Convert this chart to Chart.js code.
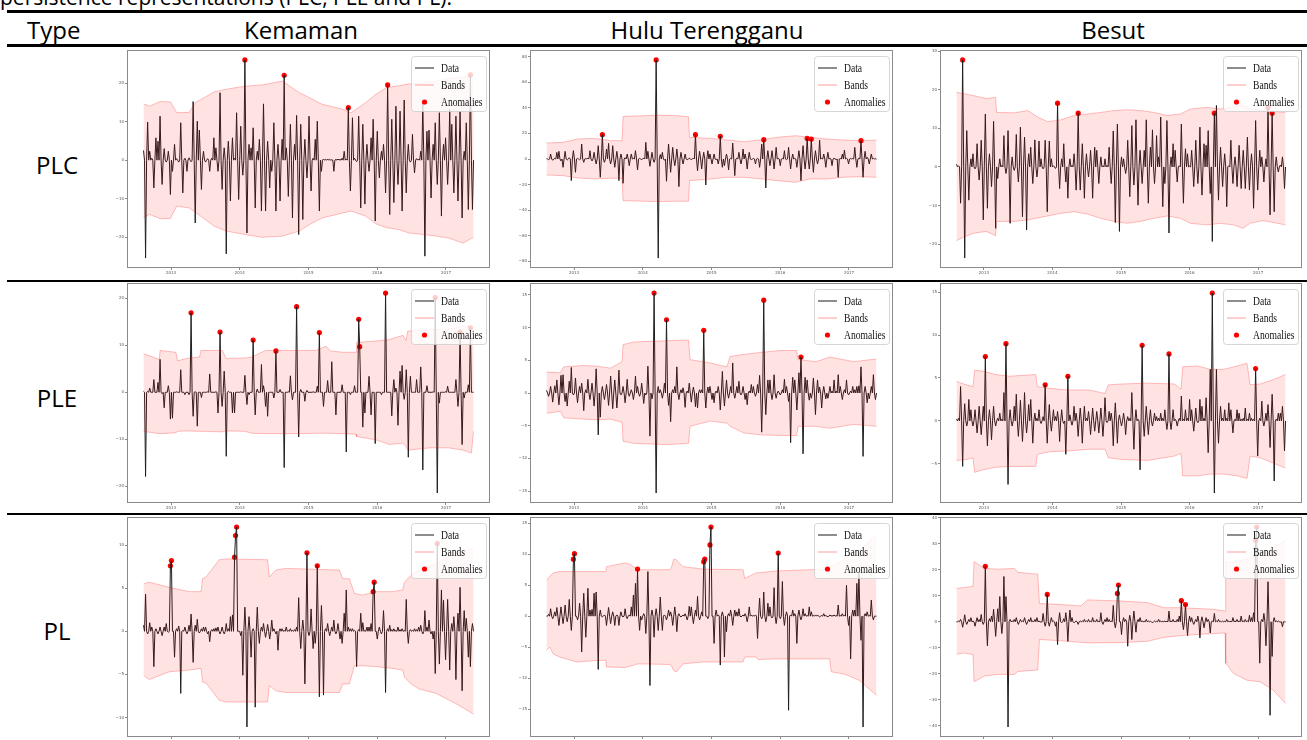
<!DOCTYPE html>
<html>
<head>
<meta charset="utf-8">
<script src="https://cdn.jsdelivr.net/npm/chart.js@4.4.1/dist/chart.umd.min.js"></script>
<style>
  body { margin: 0; width: 1307px; height: 740px; overflow: hidden; background: #fff; position: relative; font-family: "Open Sans", sans-serif; }
  .rule { position: absolute; left: 7px; right: 0; background: #000; z-index: 5; }
  .txt { position: absolute; font-size: 24px; line-height: 24px; color: #000; white-space: nowrap; z-index: 5; }
  .mid { transform: translateX(-50%); }
  .cap { position: absolute; left: 0; top: -13px; font-size: 21px; line-height: 21px; white-space: nowrap; }
  canvas { position: absolute; }
</style>
</head>
<body>
<div class="cap">persistence representations (PLC, PLE and PL).</div>
<div class="rule" style="top:10px;height:3px"></div>
<div class="txt" style="left:27px;top:18px">Type</div>
<div class="txt mid" style="left:301px;top:18px">Kemaman</div>
<div class="txt mid" style="left:707px;top:18px">Hulu Terengganu</div>
<div class="txt mid" style="left:1113px;top:18px">Besut</div>
<div class="rule" style="top:44px;height:3px"></div>
<div class="rule" style="top:280px;height:2px"></div>
<div class="rule" style="top:513px;height:2px"></div>
<div class="txt mid" style="left:57px;top:153px">PLC</div>
<div class="txt mid" style="left:57px;top:386px">PLE</div>
<div class="txt mid" style="left:57px;top:619px">PL</div>

<script>
/**
 * Anomaly panels: series, band envelope, flagged points.
 * Series are sampled evenly between T0 and T1 (years); band knots use a 0..159 grid.
 */
const T0 = 2012.6, T1 = 2017.4, KNOT_MAX = 159;
const yearTicks = [2013, 2014, 2015, 2016, 2017];

// ---- Kemaman / PLC
const kemPLC = [2.5,0,-25.4,0,9.9,0,2.3,0,0.5,0,-7.2,0,5.8,0,4.9,0,11.4,0,-6.3,0,
  3,0,-0.5,0,2.3,0,-8.9,0,-2.9,0,4.1,0,0.4,0,-0.5,0,9.7,0,-8.5,0,
  0.5,0,-2.9,0,0.6,0,-0.4,0,15.2,0,-16.3,0,10.1,0,7.8,0,-7.6,0,2.3,0,
  -0.5,0,0.4,0,-2.9,0,0.5,0,5.8,0,3.2,0,-2.9,0,17.5,0,-7.6,0,3.2,0,
  -24.3,0,4.9,0,-10.6,0,5.8,0,0.5,0,12.3,0,-10.2,0,8.8,0,-3.9,0,26.0,0,
  -18.9,0,4.1,0,3.2,0,8.4,0,-12.4,0,2.3,0,5.4,0,-13.2,0,14.6,0,-13.2,0,
  4.9,0,-7.2,0,-2.9,0,9.7,0,-13.2,0,4.1,0,-10.6,0,5.4,0,22.0,0,3.2,0,
  -9.4,0,9.3,0,-15,0,4.1,0,11.6,0,-19.3,0,9.3,0,-15.4,0,5.4,0,-4.6,0,
  11.4,0,-8,0,0.5,0,5.4,0,10.1,0,-13.2,0,-2.9,0,0.3,0,0.2,0,0.3,0,
  0.2,0,0.1,0,-2.9,0,0.2,0,0.3,0,0.2,0,0.5,0,2.3,0,0.3,0,13.6,0,
  -8,0,11,0,0.5,0,-0.4,0,11.4,0,-12.4,0,9.3,0,-11.4,0,4.1,0,-2.9,0,
  5.8,0,10.6,0,-15.8,0,7.5,0,-4.6,0,2.3,0,4.1,0,-8.5,0,19.5,0,-14.1,0,
  10.6,0,-11,0,14,0,-6.3,0,12.7,0,-13.2,0,15.6,0,-8.5,0,4.1,0,-0.5,0,
  6.7,0,-3.3,0,0.4,0,0.3,0,2.3,0,14.5,0,-24.9,0,7.5,0,7.8,0,-9.8,0,
  4.1,0,9.7,0,-6.3,0,12.3,0,-14.5,0,4.1,0,5.8,0,-6.3,0,13.2,0,9.3,0,
  -8.5,0,11.4,0,-10.6,0,12.7,0,-15,0,2.3,0,9.7,0,-12.8,0,22.1,0,-12.8,0];
const kemPLC_anom = [98, 136, 198, 236, 316];
const kemPLC_knots = [0,3,8,13,16,22,25,34,40,49,57,67,75,80,86,96,100,107,112,117,123,128,135,141,147,154,159];
const kemPLC_up = [14.6,14,15.2,15.1,12.3,12.4,14.9,17.7,18.4,19.2,19.5,20.5,17.5,16.2,14.5,13.2,12.3,14.9,17.1,18.8,19.3,19.8,20,20.5,21.2,21.5,22.1];
const kemPLC_lo = [-14.8,-14.1,-15.2,-15.1,-11.9,-12.4,-13.5,-17.1,-18.4,-19.3,-20,-19.7,-18.4,-16.7,-15,-13.7,-13.2,-14.5,-16.5,-17.5,-18,-18.9,-19.3,-19.7,-20.2,-21.5,-20];

// ---- Hulu Terengganu / PLC
const huluPLC = [0.3,0,-0.5,0,3.9,0,-1,0,0.5,0,5.2,0,6,0,-1.5,0,-6.5,0,6,0,
  -0.8,0,1,0,-16.9,0,6.5,0,-10.4,0,0.5,0,-0.6,0,11.7,0,-2.6,0,0.4,0,
  0.8,0,6.5,0,-1.5,0,5.2,0,-3.9,0,10.4,0,-14.3,0,19,0,-2.6,0,7.8,0,
  12.2,0,-3.9,0,10.4,0,-6.5,0,6,0,-16.9,0,3.9,0,-19,0,1,0,3.9,0,
  -5.2,0,3.9,0,0.5,0,6.5,0,-8.6,0,0.5,0,-0.5,0,0.8,0,13,0,6,0,
  -5.7,0,5.2,0,-2.6,0,77.4,0,-77.4,0,3.5,0,5.2,0,-1,0,-17.4,0,11.7,0,
  -10.4,0,9.1,0,-5.2,0,7.8,0,-21.6,0,5.2,0,-3.9,0,3.9,0,-0.5,0,0.6,0,
  -0.4,0,0.8,0,19,0,-9.1,0,6,0,-7.8,0,5.2,0,-20.3,0,6.5,0,3.9,0,
  -3.9,0,3.9,0,-0.5,0,-3.9,0,17.7,0,-6.5,0,-5.2,0,3.9,0,-8.6,0,0.5,0,
  12.5,0,-13,0,0.6,0,5.2,0,-3.9,0,7.8,0,3.9,0,-7.8,0,5.2,0,-0.5,0,
  0.4,0,-3.9,0,0.5,0,-6.5,0,11.7,0,15.1,0,-22.6,0,6.5,0,-5.2,0,6.5,0,
  -7.8,0,9.1,0,0.5,0,-5.2,0,0.4,0,6.5,0,-0.5,0,9.1,0,-7.8,0,3.9,0,
  0.5,0,-6.5,0,6.5,0,-16.9,0,10.4,0,-7.8,0,16.1,0,-7.8,0,15.6,0,-10.4,0,
  6.5,0,-3.9,0,14.8,0,0.5,0,3.9,0,-6.5,0,5.2,0,0.5,0,-5.2,0,0.6,0,
  -0.5,0,-14.3,0,0.4,0,3.9,0,7,0,0.5,0,-3.9,0,0.5,0,0.4,0,9.1,0,
  -6.5,0,0.5,0,14.3,0,-14.3,0,6,0,1.3,0,-3.9,0,3.9,0,0.5,0,0.2,0];
const huluPLC_anom = [54, 106, 144, 168, 210, 252, 256, 304];
const huluPLC_knots = [0,8,15,23,31,36.4,36.9,47,53,63,68.4,68.9,79,87,95,104,111,120,127,135,143,151,159];
const huluPLC_up = [12.5,13,15.6,16.1,14.3,14.3,33.2,33.8,34.3,33.8,33,16.9,16.1,14.8,13.5,15.1,16.9,18.2,16.9,15.6,14.8,14.3,14.8];
const huluPLC_lo = [-12.5,-13,-14.8,-15.6,-15,-15,-32.5,-33,-33.2,-33,-33,-16.9,-15.6,-14.3,-14.3,-15.6,-16.9,-18.2,-15.6,-15.6,-14.3,-13.8,-14.3];

// ---- Besut / PLC
const besPLC = [0.7,0,0.3,0,-9.4,0,27.7,0,-23.6,0,9.4,0,-8.6,0,2.1,0,3.4,0,-0.5,0,
  6,0,-3.4,0,6.9,0,-13.7,0,13.7,0,-10.7,0,3.4,0,-5.1,0,11.8,0,-15.9,0,
  -3,0,2.1,0,0.4,0,8.1,0,-1.7,0,9.4,0,-14.6,0,2.6,0,-0.9,0,8.4,0,
  -3.9,0,10.3,0,-12.9,0,7.7,0,-16.3,0,3.4,0,5.1,0,-4.3,0,7,0,-2.6,0,
  6.7,0,2.1,0,-0.5,0,6.9,0,-11.6,0,6.7,0,2.1,0,0.3,0,-0.4,0,16.5,0,
  -5.6,0,2.1,0,6,0,-3.9,0,-8.1,0,2.1,0,0.4,0,3.4,0,-6,0,13.9,0,
  -6,0,6,0,-8.1,0,3.4,0,-2.6,0,4.3,0,-8.1,0,5.1,0,4.3,0,-4.3,0,
  2.6,0,0.3,0,2.1,0,0.4,0,5.1,0,-4.3,0,9.3,0,-14.4,0,11.1,0,-16.7,0,
  2.6,0,2.1,0,-1.7,0,6.9,0,-7.7,0,10.7,0,-4.7,0,12.2,0,-9.9,0,4.3,0,
  -4.3,0,4.3,0,12.2,0,-9.4,0,5.1,0,9.6,0,-4.3,0,8.1,0,2.6,0,12.9,0,
  -10.3,0,-4.3,0,12,0,-17.1,0,2.6,0,6,0,4.3,0,-3.9,0,0.3,0,11.1,0,
  -9.4,0,4.7,0,3.4,0,0.2,0,4.3,0,-5.1,0,6.9,0,-4.3,0,10.3,0,-7.3,0,
  6,0,5.6,0,9.4,0,-6.9,0,-19.3,0,13.9,0,15.9,0,-8.6,0,5.1,0,-5.1,0,
  3.4,0,-10.3,0,0.3,0,6.9,0,-4.3,0,2.6,0,-5.1,0,5.6,0,-5.6,0,4.3,0,
  -5.6,0,7.7,0,-6,0,3.4,0,-10.7,0,12,0,-6,0,4.3,0,2.6,0,-3.9,0,
  2.1,0,15.4,0,-12.4,0,13.9,0,-11.6,0,2.6,0,-1.3,0,0.5,0,2.6,0,-5.6,0];
const besPLC_anom = [6, 98, 118, 250, 302, 306];
const besPLC_knots = [0,4,8.8,14.4,18.9,19.4,28,34.5,39.3,44.1,50.5,56.9,63.3,69.7,76.1,82.5,88.9,95.4,101.8,108.2,113,121,127.4,133.8,138.6,141.8,148.2,159];
const besPLC_up = [19.3,18.9,18.4,17.7,18,14.1,14,14.6,12.9,11.7,12.2,13.3,13.7,14.1,14.6,14.8,14.6,14.1,13.3,13.7,15,15.4,15,15.4,16,15,14.6,14.1];
const besPLC_lo = [-19.1,-18,-17.1,-16.7,-17.8,-14.1,-14.1,-13.7,-13.2,-12.7,-12,-11.6,-12.2,-13.3,-14.1,-14.6,-14.1,-13.3,-12.7,-13.3,-14.6,-15,-14.6,-15,-15.9,-14.6,-13.9,-15];

// ---- Kemaman / PLE
const kemPLE = [0.2,0,-17.9,0,0.2,0,0.9,0,0,0,2.7,0,0,0,2.1,0,7,0,-0.3,0,
  -3.3,0,0,0,1.4,0,-5.7,0,-5.5,0,0,0,0.1,0,0,0,4.8,0,0,0,
  -0.5,0,0,0,-0.5,0,16.9,0,-5.1,0,0.1,0,-7.2,0,0,0,-1.1,0,0,0,
  0,0,0.1,0,3.9,0,0,0,0,0,0.1,0,-4.4,0,12.8,0,-3,0,4.5,0,
  -13.6,0,0.2,0,0,0,-4.4,0,-4.4,0,0,0,0,0,0.1,0,0,0,3.6,0,
  -2.6,0,-0.5,0,0,0,11.1,0,-4.8,0,0.7,0,0,0,5.9,0,1.4,0,-3,0,
  -5.1,0,0,0,0,0,-1.2,0,8.8,0,0,0,0.6,0,0,0,-16,0,0,0,
  0.1,0,3.5,0,-1.6,0,0,0,18.2,0,-9.5,0,0.6,0,0,0,-1.9,0,0.4,0,
  0,0,0,0,0.1,0,0,0,1.3,0,12.7,0,0,0,-3,0,0,0,2.5,0,
  0,0,6.5,0,0,0,-4.8,0,0,0,0,0,1.6,0,0,0,-12.7,0,0,0,
  -0.5,0,0,0,1.4,0,0,0,15.5,9.7,0,0,-7.4,0,-4.4,0,0,0,3.4,0,
  -4.8,0,0,0,-10.9,0,0,0,0,0,-0.5,0,0,0,21.1,0,0,0,0,0,
  -5,0,2.7,0,0.9,0,-7,0,4.5,0,5.7,0,-1.5,0,4.8,0,-13.8,0,3.4,0,
  0,0,0,0,2.7,0,0,0,5.4,0,-16.5,0,0,0,1.4,0,0,0,0,0,
  0.1,0,20.1,0,-21.4,0,-2.3,0,0,0,0,0,0.1,0,1.3,0,0,0,0,0,
  0,0,2.7,0,-3,0,12.8,0,-11.1,0,-1.2,0,0,0,1.6,0,13.7,0,0,0];
const kemPLE_anom = [46, 74, 106, 128, 148, 170, 208, 209, 234, 282, 306, 316];
const kemPLE_knots = [0,7.6,8,15.6,16.4,21,27,27.7,38,39.7,49,52,59,73,83,88,90,96,102.4,102.7,112,118.5,125,126.5,127.3,138,147,154,158,159];
const kemPLE_up = [8.2,7,8.9,8.5,6.7,7.2,7.5,8.9,8.9,7.2,7.3,7.5,8.9,8.9,8.9,9.8,8.8,8.5,8.5,10.6,10.9,11.2,12.1,11,13,13.3,13.5,14,14,13];
const kemPLE_lo = [-8.3,-8.8,-8.8,-8.6,-8.3,-8.2,-8.3,-8.3,-8.4,-8.2,-8.3,-8.7,-8.8,-8.8,-8.7,-8.7,-8.7,-8.8,-8.9,-9.4,-10.1,-11.1,-10.8,-11.5,-12.3,-11.8,-11.8,-12.3,-12.9,-8.3];

// ---- Hulu Terengganu / PLE
const huluPLE = [0.4,0,-0.5,0,1,0,-1.4,0,1.1,0,2,0,-1.8,0,2.7,0,2.8,0,-1.3,0,
  -2,0,1.8,0,3.9,0,-0.3,0,2.3,0,-1.5,0,1,0,1.5,0,-2.7,0,0.5,0,
  2.1,0,-1,0,1.5,0,-2,0,3.7,0,-6.4,0,-3.7,0,1,0,-1,0,1.3,0,
  -1.9,0,2.6,0,-2.4,0,2,0,-2.3,0,3.5,0,-0.3,0,1,0,-1.5,0,2.1,0,
  -0.5,0,0.5,0,-1,0,2.6,0,1,0,-0.5,0,1.5,0,-1.6,0,-0.3,0,4.1,0,
  -6.6,0,-0.9,0,15.3,0,-15.3,0,1,0,0.5,0,-0.8,0,1.5,0,11.2,0,-1.9,0,
  -4.4,0,0.5,0,1,0,4,0,-1,0,0.5,0,0.8,0,-2.2,0,0.3,0,1.5,0,
  -1.4,0,0.9,0,-2.1,0,-2.3,0,0.5,0,0.5,0,9.6,0,-2.3,0,0.9,0,1,0,
  -1,0,-1.5,0,0.3,0,1,0,-2.6,0,3.3,0,-2,0,2,0,-0.8,0,1,0,
  4.6,0,-0.8,0,1,0,1.8,0,-0.3,0,1,0,-1,0,-1.8,0,0.3,0,1.3,0,
  1,0,-0.5,0,1.3,0,2.7,0,-6,0,14.2,0,-3.3,0,2,0,2,0,-1,0,
  2.8,0,-0.8,0,0.3,0,-0.3,0,0.5,0,2.1,0,1,0,-1.3,0,-7.6,0,2.4,0,
  2,0,-2.6,0,3.1,0,5.5,0,-9.3,0,2.4,0,2,0,-1.1,0,-0.8,0,2.3,0,
  -3.3,0,2,0,0.9,0,-2.3,0,1,0,-0.9,0,-0.8,0,1,0,0.3,0,2,0,
  0.3,0,2.8,0,1,0,-1,0,0.5,0,2,0,-0.3,0,0.3,0,1,0,0.5,0,
  1,0,1.1,0,4,0,-9.7,0,1,0,-1.5,0,-0.9,0,1,0,2.8,0,-1,0];
const huluPLE_anom = [104, 116, 152, 210, 246];
const huluPLE_knots = [0,6.7,8.3,18,24.4,30.8,36.4,36.9,42,50,58,68.4,69.2,78.8,86.9,88.5,95,103,112.5,120.5,121.3,130,136.5,148,159];
const huluPLE_up = [3.2,3.1,4,4.2,4.1,3.8,4.8,7.4,7.8,7.9,8,8.1,5.1,4.6,4,5.6,5.9,6.2,6.5,6.5,5.1,4.8,5.5,4.8,5.2];
const huluPLE_lo = [-3.1,-2.8,-3.8,-4,-4.1,-4,-4.5,-7.4,-7.7,-7.8,-7.9,-7.7,-5.1,-4.3,-4.6,-5.1,-6.1,-6.4,-6.5,-6.5,-5.1,-5.1,-5.4,-4.8,-5.1];

// ---- Besut / PLE
const besPLE = [0.2,0,0.3,0,4,0,-5.3,0,2,0,-0.6,0,2.5,0,1.3,0,-0.6,0,1.3,0,
  -1.4,0,1.7,0,-1.6,0,1.7,0,7.5,0,-2.9,0,1.3,0,-2.2,0,1.7,0,-0.6,0,
  0.3,0,0.9,0,0.2,0,3.3,0,9,0,-7.4,0,1.3,0,-0.6,0,1.7,0,3.1,0,
  -1.8,0,2.4,0,-2.4,0,3.3,0,-1.4,0,1.9,0,2.5,0,-2.6,0,0.9,0,0.3,0,
  1.3,0,-0.3,0,0.5,0,4.2,0,-2.6,0,1.9,0,-1.2,0,1.3,0,0.5,0,1.1,0,
  -2.4,0,1.3,0,-0.3,0,-3.9,0,5.2,0,0.7,0,-0.5,0,1.7,0,0.9,0,-1.8,0,
  1.5,0,-2.6,0,1.7,0,0.3,0,1.1,0,-1.6,0,1.5,0,-1.2,0,1.1,0,-1.4,0,
  1.5,0,-1.8,0,2.7,0,-0.2,0,1.1,0,0.9,0,-2.9,0,2.1,0,-2.6,0,0.7,0,
  -0.6,0,0.9,0,-1.6,0,0.5,0,0.3,0,3.3,0,-3.3,0,1.3,0,0.2,0,-5.7,0,
  8.8,0,-1.8,0,1.7,0,-1.6,0,1.3,0,-0.6,0,0.9,0,0.5,0,0.3,0,0.9,0,
  0.3,0,1.3,0,-1,0,7.8,0,-1,0,1.3,0,0.2,0,-0.6,0,0.3,0,2.9,0,
  0.2,0,1.3,0,0.3,0,2.5,0,1.3,0,-1.2,0,1.5,0,-0.2,0,2.5,0,1.7,0,
  0.3,0,2.7,0,-3.7,0,6,0,14.9,0,-8.4,0,6,0,-2.6,0,1.7,0,0.3,0,
  1.3,0,0.3,0,2.1,0,1.3,0,-1.4,0,0.2,0,1.3,0,0.9,0,0.2,0,0.3,0,
  1.5,0,0.2,0,0.9,0,0.3,0,0.2,0,6.1,0,-4.1,0,0.3,0,2.3,0,-0.6,0,
  0.9,0,1.9,0,-3.1,0,3.1,0,-7,0,0.2,0,0.9,0,0.9,0,1.7,0,-3.5,0];
const besPLE_anom = [28, 48, 86, 108, 180, 206, 248, 290];
const besPLE_knots = [0,4.8,8,8.8,12.8,19,25.5,38.3,39.1,44.7,54,64,71.8,73.4,80,92.5,105.3,108.5,109.3,116.4,122.8,129,135.6,140.4,141.9,146.7,153,159];
const besPLE_up = [4.6,4.2,4,5.9,5.8,5.4,5.2,5.4,4,3.8,3.6,3.6,3.2,4.2,4.3,4.4,4.3,3.7,6.3,6.4,6,6,6.4,6.7,4.2,4.3,4.8,5.4];
const besPLE_lo = [-4.6,-4.5,-4.3,-6,-5.7,-5.4,-5.3,-5.3,-3.9,-3.6,-3.5,-3.3,-3.3,-4.3,-4.5,-4.6,-4.1,-3.8,-6.4,-6.4,-6.2,-6.2,-6.4,-6.7,-4.1,-4.3,-4.9,-5.5];

// ---- Kemaman / PL
const kemPL = [0.7,0,4.3,0,-0.3,0,1,0,0.5,0,-4.1,0,0.3,0,-0.3,0,0.5,0,-0.5,0,
  0.5,0,0.9,0,-0.1,0,7.6,8.2,0,0,-3,0,0.3,0,0.6,0,-7.2,0,0.1,0,
  0.5,0,-0.3,0,0.7,0,2,0,-3.6,0,0.7,0,1.4,0,-0.2,0,0.3,0,0.5,0,
  0.5,0,-0.3,0,-1.2,0,0.2,0,0.3,0,0.4,0,0.5,0,-0.3,0,0.5,0,-0.3,0,
  0.9,0,0.3,0,1.7,0,1.9,0,8.6,11.1,12.1,0,0,0,-0.5,0,-5.1,0,2.8,0,
  -11.1,0,1.7,0,-3,0,0.3,0,-8.8,0,2.8,0,-1.4,0,0.5,0,0.9,0,-0.7,0,
  0.8,0,-0.9,0,1.3,0,0.3,0,-0.3,0,-2.2,0,0.3,0,0.3,0,0.1,0,0.5,0,
  0.1,0,0.3,0,0.1,0,0.2,0,0.5,0,3.9,0,-2,0,1.3,0,-6.1,0,9.1,0,
  -0.5,0,2.6,0,-2,0,-1.4,0,7.6,0,-7.6,0,3,0,-7.4,0,0.3,0,0.9,0,
  -0.5,0,0.5,0,1.3,0,-0.3,0,0.9,0,-0.9,0,-1.4,0,2.1,0,4.8,0,0.5,0,
  0.3,0,0.3,0,0.1,0,-4.1,0,0.2,0,2.1,0,1,0,0.1,0,0.5,0,0.5,0,
  0.9,0,4.6,5.7,0,0,-0.9,0,0.5,0,-0.3,0,2.4,0,-7.1,0,0.3,0,0.7,0,
  0.2,0,0.3,0,0.1,0,0.5,0,0.2,0,0.3,0,0.1,0,3.7,0,-1.4,0,0.2,0,
  0.1,0,0.3,0,0.2,0,0.5,0,0.7,0,-0.3,0,2.4,0,0.5,0,1.3,0,-0.3,0,
  -0.9,0,-4.9,0,10.2,0,-3.8,0,4.8,0,3.6,0,-3.3,0,3.7,0,-4.5,0,0.9,0,
  1.7,0,-5.6,0,2.1,0,5.1,0,-6.9,0,2.4,0,1.5,0,-3,0,-4.1,0,0.9,0];
const kemPL_anom = [26, 27, 88, 89, 90, 158, 168, 222, 223, 284];
const kemPL_knots = [0,2.7,12.4,22,27.7,28.5,30.1,36.5,39.7,59.8,60.6,63.8,68.6,94.4,96,99.2,101.6,105.6,112.1,120.1,124.9,125.7,128.9,133,141,150.6,159];
const kemPL_up = [5.5,5.7,5.1,4.6,4.6,6.1,6.3,8.3,8.4,8.3,6.3,7.1,7.3,7.1,6.1,6.1,4.4,4.2,4.6,4.6,4.8,5.7,6.5,7.1,7.9,9,9.6];
const kemPL_lo = [-5.1,-5.6,-4.7,-4.5,-4.3,-5.9,-6,-8,-8.2,-8.2,-6.3,-6.9,-7.1,-7.1,-6.1,-6.1,-4,-4,-4.1,-4.3,-4.5,-5.3,-6.1,-6.7,-7.2,-8.4,-9.6];

// ---- Hulu Terengganu / PL
const huluPL = [0,0,0.3,0,1.2,0,-0.4,0,0.7,0,1.4,0,-1.5,0,1.5,0,-1.2,0,1.8,0,
  -0.9,0,2.7,0,-2.3,0,9.2,10.1,0,0,-0.6,0,2.1,0,-5.8,0,3.7,0,-3.4,0,
  4.5,0,1,0,1.1,0,3.7,0,3.9,0,-8.6,0,1,0,-0.1,0,0.2,0,-1.5,0,
  1.4,0,-1.2,0,0.7,0,-1.5,0,0.2,0,-1.5,0,0.7,0,-0.1,0,1.2,0,-0.4,0,
  0.2,0,1.5,0,3.4,0,5.3,0,7.6,0,-2.3,0,-0.6,0,0.4,0,-2.8,0,7.2,0,
  -11.2,0,1,0,-3.4,0,1.2,0,-2.3,0,3.1,0,-2.3,0,0.2,0,-0.6,0,1,0,
  0.7,0,-1.5,0,1.5,0,-2.5,0,0.4,0,-0.1,0,0.2,0,0.4,0,-0.6,0,1.6,0,
  1.5,0,-1.2,0,1,0,3.2,0,-0.6,0,0.7,0,8.8,9.2,0,0,-0.4,0,11.5,14.4,
  0,0,-4.4,0,1,0,0.2,0,-7.9,0,0.7,0,-6.6,0,-2.5,0,0.4,0,1,0,
  -1.5,0,1,0,0.7,0,1.2,0,-0.1,0,0.2,0,0.4,0,-0.9,0,1.5,0,0.2,0,
  0.1,0,0.2,0,-3.6,0,2.9,0,-0.4,0,3.9,0,-0.9,0,2.1,0,1.5,0,-0.3,0,
  4.6,0,-1.2,0,10.2,0,-0.4,0,5.6,0,-1.5,0,0.7,0,-15.2,0,0.2,0,1,0,
  0.4,0,-4.4,0,1,0,-0.6,0,1.2,0,0.4,0,0.1,0,1.5,0,0.7,0,0.1,0,
  0.2,0,0.2,0,-0.1,0,0.1,0,0.4,0,0.1,0,-0.1,0,0.2,0,0.1,0,0.2,0,
  0.1,0,1.8,0,0.1,0,0.4,0,0.2,0,5,0,-1.5,0,-6.9,0,1,0,1,0,
  5.3,0,6.9,0,-3.9,0,-17.9,0,0.4,0,0.7,0,0.1,0,2.6,0,-0.6,0,0,0];
const huluPL_anom = [26, 27, 88, 152, 153, 158, 159, 224];
const huluPL_knots = [0,1.6,3.2,6.4,14.4,22.5,28.6,28.9,37.7,40.1,44.1,59.4,60.2,61.3,62.6,65.8,75.4,94.7,95.5,101.1,101.9,110.8,126.8,136.4,137.2,142.9,146.1,150.9,159];
const huluPL_up = [5.9,6.4,7,7.2,7.2,7.2,7.2,8,8.6,8.4,7.5,7.5,7.9,9.2,9.1,8,7.6,7.5,6.1,7,7,7.3,7.5,7.6,8,9,10,10.7,13.1];
const huluPL_lo = [-5.5,-5,-6.1,-6.6,-7.4,-7.2,-7.1,-8.2,-8.3,-8.1,-7.7,-7.8,-8,-8.8,-9,-7.7,-7.4,-7.4,-6.6,-6.6,-7,-6.9,-6.9,-6.9,-9,-9.3,-9.7,-10.4,-12.8];

// ---- Besut / PL
const besPL = [0,0,0.3,0,0.9,0,-2.1,0,2.7,0,-1,0,0.9,0,1.6,0,0.3,0,-1.7,0,
  1.6,0,0.9,0,2.8,0,-1,0,21.3,0,-9.2,0,1.2,0,2.2,0,4.8,0,-5.6,0,
  5,0,9.7,0,-4.5,0,17.4,0,9.7,0,-40.4,0,0.9,0,0.3,0,0.9,0,1.6,0,
  -1,0,0.9,0,0.3,0,1.6,0,-1,0,0.9,0,1.6,0,0.3,0,0.9,0,1.6,0,
  0.3,0,-0.1,0,3.2,0,-1.7,0,10.5,0,-1.7,0,1.6,0,0.3,0,-1.7,0,-8.8,0,
  3.5,0,-0.4,0,1.2,0,3.5,0,-7.5,0,4.5,0,1.6,0,-0.4,0,0.3,0,-1,0,
  0.3,0,0.3,0,0.9,0,0.3,0,0.9,0,0.2,0,1.6,0,0.3,0,0.9,0,0.2,0,
  3.5,0,-1,0,0.9,0,1.6,0,0.9,0,0.3,0,6.3,0,-2.3,0,10.9,14.1,0,0,
  -4.9,0,1.6,0,0.9,0,-9.4,0,2.5,0,-6.8,0,4.1,0,-4,0,0.9,0,1.6,0,
  0.3,0,0.2,0,0.9,0,0.3,0,0.2,0,-0.4,0,0.3,0,0.2,0,0.9,0,0.3,0,
  0.2,0,0.3,0,0.2,0,4.1,0,0.3,0,0.9,0,0.2,0,0.9,0,2.2,0,8.1,0,
  -3,0,6.6,0,-5.3,0,2.2,0,1.6,0,-1,0,0.9,0,2.2,0,-6.2,0,1.9,0,
  -2.3,0,1.6,0,0.9,0,-4.3,0,0.2,0,3.2,0,0.3,0,0.9,0,0.2,0,0.3,0,
  0.2,0,0.9,0,0.3,0,0.2,0,1.6,0,0.3,0,0.9,0,0.3,0,2.2,0,0.3,0,
  0.9,0,0.3,0,2.5,0,1.6,0,3.5,0,31.3,36.4,0,0,-15.9,0,0.9,0,3.2,0,
  -9.2,0,15.4,0,-35.9,0,-13.3,0,1.6,0,0.3,0,0.3,0,-0.1,0,-1.9,0,0,0];
const besPL_anom = [28, 88, 156, 157, 218, 222, 290, 291];
const besPL_knots = [0,4,8,8.5,13.6,20,28,29.6,39.3,40.1,48.9,60.1,63.3,79.3,92.1,100.2,108.2,124.2,129.8,130.1,133.8,140.2,146.6,153,159];
const besPL_up = [12.8,13.2,13.6,23.1,20.5,20.2,20.5,19,18.3,7,6.7,6.1,8.4,8,7.4,5.4,5.4,4.8,4.1,22.9,22.9,24,26,28.5,31.3];
const besPL_lo = [-12.4,-12,-12.6,-23,-20.8,-20.2,-20.2,-19.1,-18.5,-6.8,-7.2,-7.9,-8.1,-8,-7.5,-6,-5.3,-4.5,-4.3,-15.9,-19.8,-22.4,-23,-26.2,-31.4];

// panel table: series + y tick step + axes box [left, top, width, height]
const panels = [
  { data: kemPLC,  anom: kemPLC_anom,  knots: kemPLC_knots,  up: kemPLC_up,  lo: kemPLC_lo,  step: 10, box: [127, 50, 363, 218] },
  { data: huluPLC, anom: huluPLC_anom, knots: huluPLC_knots, up: huluPLC_up, lo: huluPLC_lo, step: 20, box: [530, 50, 363, 218] },
  { data: besPLC,  anom: besPLC_anom,  knots: besPLC_knots,  up: besPLC_up,  lo: besPLC_lo,  step: 10, box: [940, 50, 362, 218] },
  { data: kemPLE,  anom: kemPLE_anom,  knots: kemPLE_knots,  up: kemPLE_up,  lo: kemPLE_lo,  step: 10, box: [127, 283, 363, 220] },
  { data: huluPLE, anom: huluPLE_anom, knots: huluPLE_knots, up: huluPLE_up, lo: huluPLE_lo, step: 5,  box: [530, 283, 363, 220] },
  { data: besPLE,  anom: besPLE_anom,  knots: besPLE_knots,  up: besPLE_up,  lo: besPLE_lo,  step: 5,  box: [940, 283, 362, 220] },
  { data: kemPL,   anom: kemPL_anom,   knots: kemPL_knots,   up: kemPL_up,   lo: kemPL_lo,   step: 5,  box: [127, 517, 363, 220] },
  { data: huluPL,  anom: huluPL_anom,  knots: huluPL_knots,  up: huluPL_up,  lo: huluPL_lo,  step: 5,  box: [530, 517, 363, 220] },
  { data: besPL,   anom: besPL_anom,   knots: besPL_knots,   up: besPL_up,   lo: besPL_lo,   step: 10, box: [940, 517, 362, 220] },
];

const PAD_L = 22, PAD_T = 4, PAD_R = 4, PAD_B = 12;
const DATA_COLOR = '#1e1e1e';
const BAND_EDGE = 'rgba(255, 0, 0, 0.25)';
const BAND_FILL = 'rgba(255, 0, 0, 0.11)';
const SPINE = '#8a8a8a';
const LEGEND = [
  { label: 'Data', kind: 'line', color: 'rgba(0,0,0,0.6)' },
  { label: 'Bands', kind: 'line', color: 'rgba(255,0,0,0.25)' },
  { label: 'Anomalies', kind: 'dot', color: '#ff0000' }
];

const tKnot = k => T0 + k * (T1 - T0) / KNOT_MAX;
const fmt = v => (v < 0 ? '\u2212' + Math.abs(v) : String(v));

// axes box (matplotlib spines)
const spines = {
  id: 'spines',
  afterDatasetsDraw(chart) {
    const { ctx, chartArea: a } = chart;
    ctx.save();
    ctx.strokeStyle = SPINE;
    ctx.lineWidth = 1;
    ctx.strokeRect(a.left + 0.5, a.top + 0.5, a.width - 1, a.height - 1);
    ctx.restore();
  }
};

// legend box in upper right corner, drawn over the data
const cornerLegend = {
  id: 'cornerLegend',
  afterDraw(chart) {
    const { ctx, chartArea: a } = chart;
    const w = 75, h = 55, x = a.right - 4 - w, y = a.top + 6;
    ctx.save();
    ctx.beginPath();
    if (ctx.roundRect) ctx.roundRect(x + 0.5, y + 0.5, w, h, 3); else ctx.rect(x + 0.5, y + 0.5, w, h);
    ctx.fillStyle = 'rgba(255,255,255,0.8)';
    ctx.fill();
    ctx.strokeStyle = 'rgba(204,204,204,0.8)';
    ctx.lineWidth = 1;
    ctx.stroke();
    LEGEND.forEach((item, k) => {
      const cy = y + 12 + k * 17;
      if (item.kind === 'line') {
        ctx.strokeStyle = item.color;
        ctx.lineWidth = 1.5;
        ctx.beginPath();
        ctx.moveTo(x + 4, cy);
        ctx.lineTo(x + 23, cy);
        ctx.stroke();
      } else {
        ctx.fillStyle = item.color;
        ctx.beginPath();
        ctx.arc(x + 13.5, cy, 2.6, 0, Math.PI * 2);
        ctx.fill();
      }
      ctx.save();
      ctx.translate(x + 30, cy + 0.5);
      ctx.scale(0.8, 1);
      ctx.fillStyle = '#111';
      ctx.font = '12px "Liberation Serif", serif';
      ctx.textBaseline = 'middle';
      ctx.fillText(item.label, 0, 0);
      ctx.restore();
    });
    ctx.restore();
  }
};

function makePanel(p) {
  const [L, T, W, H] = p.box;
  const canvas = document.createElement('canvas');
  canvas.width = W + PAD_L + PAD_R;
  canvas.height = H + PAD_T + PAD_B;
  canvas.style.left = (L - PAD_L) + 'px';
  canvas.style.top = (T - PAD_T) + 'px';
  canvas.style.width = canvas.width + 'px';
  canvas.style.height = canvas.height + 'px';
  document.body.appendChild(canvas);

  const tAt = j => T0 + j * (T1 - T0) / (p.data.length - 1);
  const series = p.data.map((v, j) => ({ x: tAt(j), y: v }));
  const upper = p.knots.map((k, j) => ({ x: tKnot(k), y: p.up[j] }));
  const lower = p.knots.map((k, j) => ({ x: tKnot(k), y: p.lo[j] }));
  const flagged = p.anom.map(j => ({ x: tAt(j), y: p.data[j] }));

  const all = p.data.concat(p.up, p.lo);
  const yMin = Math.min(...all), yMax = Math.max(...all);
  const yPad = (yMax - yMin) * 0.05;
  const xPad = (T1 - T0) * 0.05;

  new Chart(canvas, {
    type: 'line',
    data: {
      datasets: [
        { label: 'Bands', data: upper, borderColor: BAND_EDGE, borderWidth: 1, backgroundColor: BAND_FILL, fill: '+1', pointRadius: 0 },
        { label: 'Bands (lower)', data: lower, borderColor: BAND_EDGE, borderWidth: 1, fill: false, pointRadius: 0 },
        { label: 'Data', data: series, borderColor: DATA_COLOR, borderWidth: 1, fill: false, pointRadius: 0, tension: 0 },
        { label: 'Anomalies', data: flagged, showLine: false, pointRadius: 2.6, pointBorderWidth: 0,
          pointBackgroundColor: '#ff0000', borderColor: '#ff0000', backgroundColor: '#ff0000' }
      ]
    },
    options: {
      responsive: false,
      animation: false,
      devicePixelRatio: 1,
      layout: { padding: { top: PAD_T, right: PAD_R, left: 0, bottom: 0 } },
      plugins: { legend: { display: false }, tooltip: { enabled: false } },
      scales: {
        x: {
          type: 'linear',
          min: T0 - xPad,
          max: T1 + xPad,
          afterFit: s => { s.height = PAD_B; },
          afterBuildTicks: s => { s.ticks = yearTicks.map(v => ({ value: v })); },
          ticks: { font: { size: 4, family: 'DejaVu Sans' }, color: '#555', padding: 1, maxRotation: 0, autoSkip: false, callback: v => String(v) },
          grid: { display: true, drawOnChartArea: false, drawTicks: true, tickLength: 2, color: SPINE },
          border: { display: false }
        },
        y: {
          min: yMin - yPad,
          max: yMax + yPad,
          afterFit: s => { s.width = PAD_L; },
          afterBuildTicks: s => {
            const t = [];
            for (let v = Math.ceil(s.min / p.step) * p.step; v <= s.max + 1e-9; v += p.step) t.push({ value: v });
            s.ticks = t;
          },
          ticks: { font: { size: 4, family: 'DejaVu Sans' }, color: '#555', padding: 1, autoSkip: false, callback: v => fmt(v) },
          grid: { display: true, drawOnChartArea: false, drawTicks: true, tickLength: 2, color: SPINE },
          border: { display: false }
        }
      }
    },
    plugins: [spines, cornerLegend]
  });
}

panels.forEach(makePanel);
</script>
</body>
</html>
